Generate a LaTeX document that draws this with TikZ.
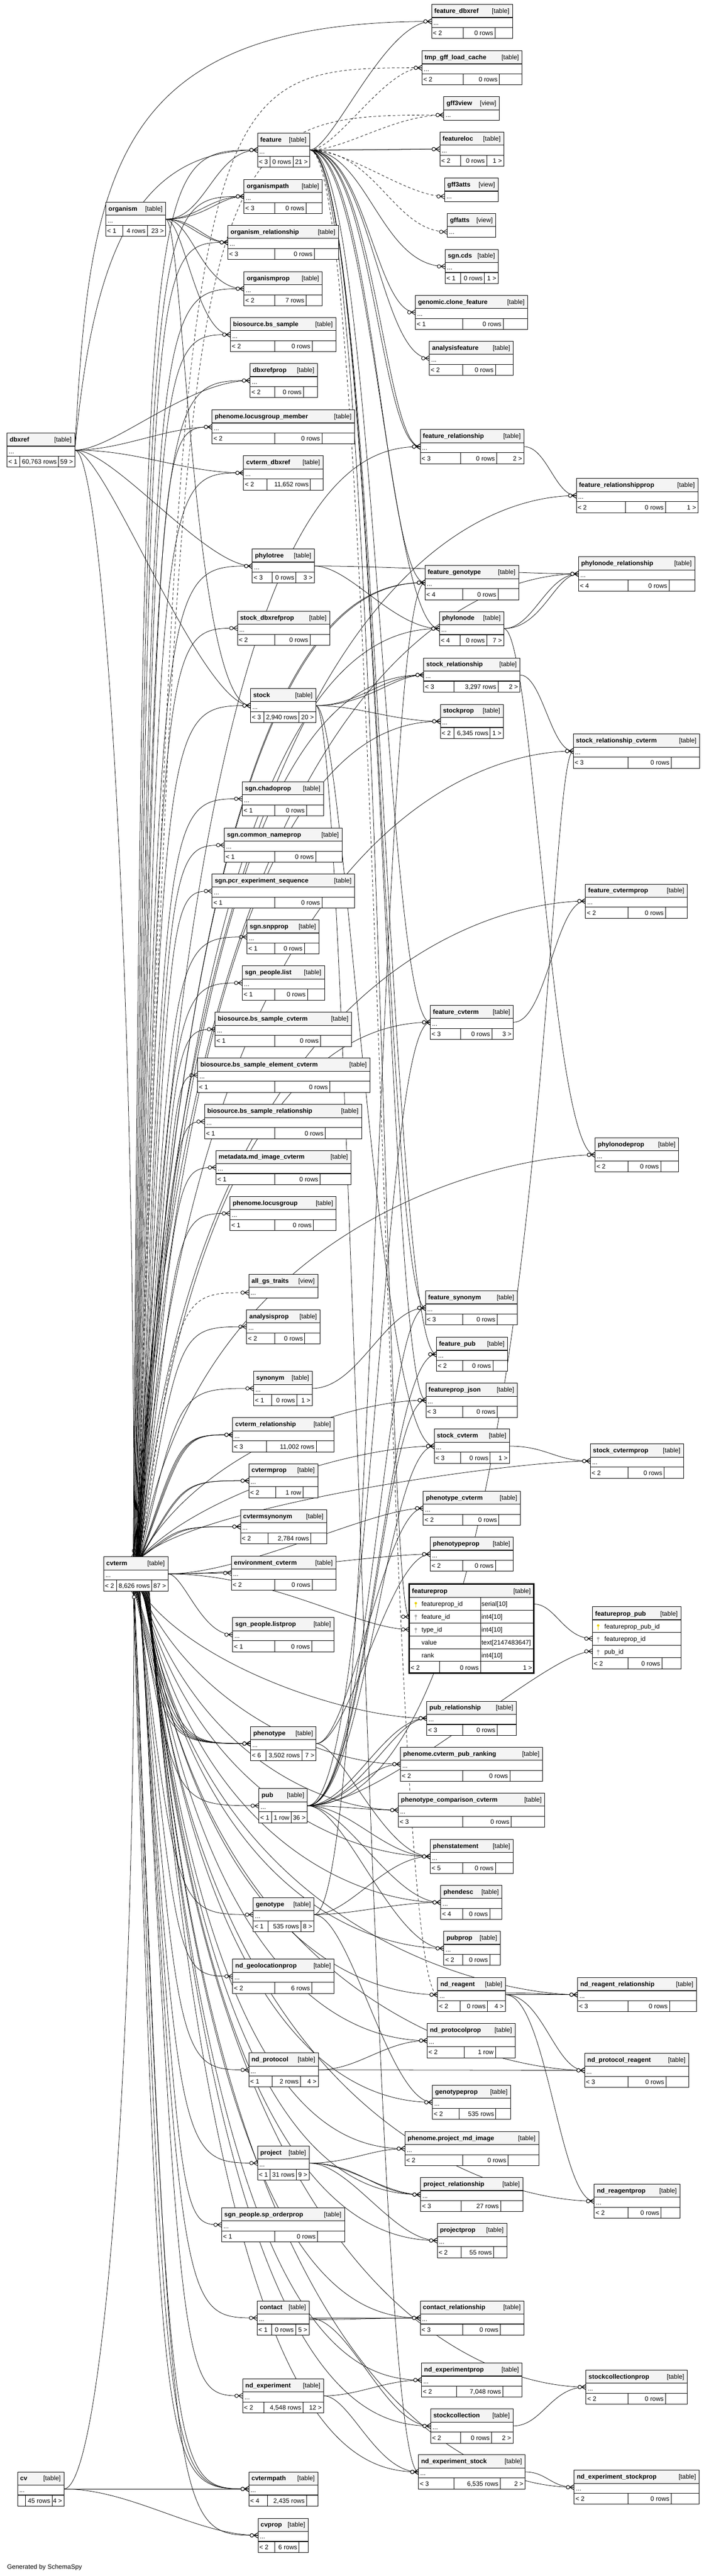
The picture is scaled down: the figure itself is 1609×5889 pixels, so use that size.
\documentclass[tikz,border=0pt]{standalone}
\usepackage{fontspec}
\setmainfont{Liberation Sans}
\usetikzlibrary{calc}
\definecolor{hdrgray}{RGB}{244,244,244}
\definecolor{pkgold}{RGB}{232,208,0}
\definecolor{fkgray}{RGB}{170,170,170}
\pgfdeclarelayer{bg}
\pgfdeclarelayer{edges}
\pgfsetlayers{bg,edges,main}
\def\tsize{\fontsize{14.6pt}{17pt}\selectfont}
\tikzset{
  tblbox/.style={rectangle,fill=white,inner sep=0pt,outer sep=0pt},
  hdrfill/.style={fill=hdrgray},
  tblrule/.style={line width=1.3pt},
  tblcell/.style={line width=0.8pt},
  tblframe/.style={line width=1pt},
  ttl/.style={anchor=base west,inner sep=0pt,font=\tsize\bfseries},
  tag/.style={anchor=base east,inner sep=0pt,font=\tsize},
  cell/.style={anchor=base west,inner sep=0pt,font=\tsize},
  cellr/.style={anchor=base east,inner sep=0pt,font=\tsize},
  fkline/.style={line width=0.9pt},
  implied/.style={dash pattern=on 6pt off 5pt},
  crowline/.style={line width=1.1pt}
}
% table: name, x1, y1, x2, split1, split2, title, footer L/M/R
\def\tblfoot#1/#2/#3\relax{\def\ftL{#1}\def\ftM{#2}\def\ftR{#3}}
\def\tbl#1#2#3#4#5#6#7#8{%
  \tblfoot#8\relax
  \node[tblbox,minimum width={(#4-#2)*1pt},minimum height=78pt] (#1) at ({(#2+#4)/2},{#3+39}) {};
  \fill[hdrfill] (#2,#3) rectangle (#4,#3+30);
  \draw[tblrule] (#2,#3+30) -- (#4,#3+30) (#2,#3+53) -- (#4,#3+53);
  \draw[tblcell] (#5,#3+53) -- (#5,#3+78) (#6,#3+53) -- (#6,#3+78);
  \draw[tblframe] (#2,#3) rectangle (#4,#3+78);
  \node[ttl] (#1-t) at (#2+6,#3+20) {#7};
  \node[tag] (#1-k) at (#4-7,#3+20) {[table]};
  \node[cell] (#1-d) at (#2+4,#3+47) {...};
  \node[cell] (#1-l) at (#2+3,#3+71) {\ftL};
  \node[cellr] (#1-m) at (#6-4,#3+71) {\ftM};
  \node[cellr] (#1-r) at (#4-4,#3+71) {\ftR};
}
% view: name, x1, y1, x2, title
\def\vw#1#2#3#4#5{%
  \node[tblbox,minimum width={(#4-#2)*1pt},minimum height=54pt] (#1) at ({(#2+#4)/2},{#3+27}) {};
  \fill[hdrfill] (#2,#3) rectangle (#4,#3+30);
  \draw[tblrule] (#2,#3+30) -- (#4,#3+30);
  \draw[tblframe] (#2,#3) rectangle (#4,#3+54);
  \node[ttl] (#1-t) at (#2+6,#3+20) {#5};
  \node[tag] (#1-k) at (#4-7,#3+20) {[view]};
  \node[cell] (#1-d) at (#2+4,#3+47) {...};
}
\def\tkey#1#2#3{\fill[#3] (#1,#2-7) circle[radius=2.8pt]; \draw[#3,line width=1.6pt] (#1,#2-7) -- (#1,#2+3);}
% many-end marker: point, angle
\newcommand\crow[2]{\begin{scope}[shift={(#1)},rotate=#2]
  \draw[crowline] (0,-6) -- (-10,0) -- (0,6) (-10,0) -- (0,0);
  \draw[crowline,fill=white] (-14,0) circle[radius=4pt];
\end{scope}}
% foreign key: src, dst, lane x at src, lane x at dst
\newcommand\fk[5][]{%
  \draw[fkline,#1] let \p1=(#2), \p2=(#3) in (\p1) .. controls (#4pt,\y1) and (#5pt,\y2) .. (\p2);
  \crow{#3}{0}}
% foreign key leaving vertically: src, dst, lane x
\newcommand\fkv[4][]{%
  \draw[fkline,#1] let \p1=(#2), \p2=(#3) in (\p1) .. controls (#4pt,\y2) .. (\p2);
  \crow{#3}{0}}
% foreign key leaving vertically, sweeping across: src, dst, lane x, rise
\newcommand\fkw[5][]{%
  \draw[fkline,#1] let \p1=(#2), \p2=(#3) in (\p1) .. controls (#4pt,{\y2+(#5pt)}) and ({\x2-180pt},\y2) .. (\p2);
  \crow{#3}{0}}

\begin{document}
\begin{tikzpicture}[x=1pt,y=-1pt]
%%%%% START %%%%%
\begin{pgfonlayer}{bg}\fill[white] (0,0) rectangle (1609,5889);\end{pgfonlayer}
\useasboundingbox (0,0) rectangle (1609,5889);

\tbl{feature-dbxref}{987}{10}{1172}{1059}{1132}{feature\_dbxref}{< 2/0 rows/}
\tbl{tmp-gff}{965}{116}{1194}{1059}{1142}{tmp\_gff\_load\_cache}{< 2/0 rows/}
\vw{gff3view}{1015}{221}{1142}{gff3view}
\tbl{featureloc}{1006}{302}{1152}{1053}{1113}{featureloc}{< 2/0 rows/1 >}
\tbl{feature}{589}{304}{708}{618}{670}{feature}{< 3/0 rows/21 >}
\tbl{organismpath}{558}{410}{737}{628}{700}{organismpath}{< 3/0 rows/}
\vw{gff3atts}{1017}{407}{1139}{gff3atts}
\vw{gffatts}{1023}{488}{1134}{gffatts}
\tbl{organism}{242}{462}{379}{281}{337}{organism}{< 1/4 rows/23 >}
\tbl{organism-rel}{521}{515}{774}{628}{719}{organism\_relationship}{< 3/0 rows/}
\tbl{organismprop}{558}{621}{737}{628}{700}{organismprop}{< 2/7 rows/}
\tbl{bs-sample}{527}{726}{768}{628}{714}{biosource.bs\_sample}{< 2/0 rows/}
\tbl{dbxrefprop}{572}{831}{726}{628}{694}{dbxrefprop}{< 2/0 rows/}
\tbl{lg-member}{485}{937}{811}{628}{736}{phenome.locusgroup\_member}{< 2/0 rows/}
\tbl{sgn-cds}{1018}{570}{1139}{1053}{1108}{sgn.cds}{< 1/0 rows/1 >}
\tbl{clone-feature}{950}{675}{1207}{1058}{1151}{genomic.clone\_feature}{< 1/0 rows/}
\tbl{analysisfeature}{982}{780}{1174}{1058}{1133}{analysisfeature}{< 2/0 rows/}
\tbl{feature-rel}{961}{982}{1198}{1053}{1136}{feature\_relationship}{< 3/0 rows/2 >}
\tbl{dbxref}{16}{990}{171}{45}{134}{dbxref}{< 1/60,763 rows/59 >}
\tbl{cvterm-dbxref}{557}{1042}{739}{610}{710}{cvterm\_dbxref}{< 2/11,652 rows/}
\tbl{feature-relprop}{1318}{1094}{1596}{1430}{1522}{feature\_relationshipprop}{< 2/0 rows/1 >}
\tbl{phylotree}{577}{1255}{719}{622}{677}{phylotree}{< 3/0 rows/3 >}
\tbl{phylonode-rel}{1323}{1273}{1589}{1436}{1530}{phylonode\_relationship}{< 4/0 rows/}
\tbl{feature-genotype}{972}{1293}{1186}{1058}{1139}{feature\_genotype}{< 4/0 rows/}
\tbl{stock-dbxrefprop}{543}{1397}{754}{628}{709}{stock\_dbxrefprop}{< 2/0 rows/}
\tbl{phylonode}{1005}{1398}{1152}{1052}{1113}{phylonode}{< 4/0 rows/7 >}
\tbl{stock-rel}{969}{1504}{1189}{1038}{1139}{stock\_relationship}{< 3/3,297 rows/2 >}
\tbl{stock}{573}{1574}{722}{603}{684}{stock}{< 3/2,940 rows/20 >}
\tbl{stockprop}{1007}{1610}{1151}{1038}{1121}{stockprop}{< 2/6,345 rows/1 >}
\tbl{stock-rel-cvterm}{1311}{1678}{1600}{1436}{1535}{stock\_relationship\_cvterm}{< 3/0 rows/}
\tbl{chadoprop}{554}{1787}{740}{628}{701}{sgn.chadoprop}{< 1/0 rows/}
\tbl{common-nameprop}{513}{1893}{782}{628}{722}{sgn.common\_nameprop}{< 1/0 rows/}
\tbl{pcr-seq}{485}{1998}{811}{628}{736}{sgn.pcr\_experiment\_sequence}{< 1/0 rows/}
\tbl{snpprop}{565}{2103}{730}{628}{696}{sgn.snpprop}{< 1/0 rows/}
\tbl{people-list}{554}{2208}{742}{628}{703}{sgn\_people.list}{< 1/0 rows/}
\tbl{bs-sample-cvterm}{492}{2314}{804}{628}{733}{biosource.bs\_sample\_cvterm}{< 1/0 rows/}
\tbl{bs-element-cvterm}{452}{2419}{846}{628}{754}{biosource.bs\_sample\_element\_cvterm}{< 1/0 rows/}
\tbl{feature-cvtermprop}{1339}{2021}{1572}{1436}{1522}{feature\_cvtermprop}{< 2/0 rows/}
\tbl{feature-cvterm}{984}{2298}{1174}{1053}{1125}{feature\_cvterm}{< 3/0 rows/3 >}
\tbl{bs-sample-rel}{468}{2525}{827}{628}{744}{biosource.bs\_sample\_relationship}{< 1/0 rows/}
\tbl{md-image-cvterm}{494}{2630}{803}{628}{732}{metadata.md\_image\_cvterm}{< 1/0 rows/}
\tbl{locusgroup}{526}{2735}{769}{628}{717}{phenome.locusgroup}{< 1/0 rows/}
\tbl{phylonodeprop}{1361}{2601}{1552}{1436}{1511}{phylonodeprop}{< 2/0 rows/}
\vw{all-gs-traits}{569}{2913}{727}{all\_gs\_traits}
\tbl{analysisprop}{564}{2994}{732}{628}{697}{analysisprop}{< 2/0 rows/}
\tbl{synonym}{580}{3135}{714}{621}{679}{synonym}{< 1/0 rows/1 >}
\tbl{cvterm-rel}{532}{3241}{764}{609}{723}{cvterm\_relationship}{< 3/11,002 rows/}
\tbl{cvtermprop}{569}{3346}{727}{630}{693}{cvtermprop}{< 2/1 row/}
\tbl{feature-synonym}{973}{2951}{1183}{1058}{1137}{feature\_synonym}{< 3/0 rows/}
\tbl{feature-pub}{998}{3057}{1161}{1058}{1127}{feature\_pub}{< 2/0 rows/}
\tbl{featureprop-json}{974}{3162}{1183}{1058}{1137}{featureprop\_json}{< 3/0 rows/}
\tbl{stock-cvterm}{993}{3267}{1165}{1053}{1121}{stock\_cvterm}{< 3/0 rows/1 >}
\tbl{stock-cvtermprop}{1350}{3301}{1563}{1436}{1519}{stock\_cvtermprop}{< 2/0 rows/}
\tbl{phenotype-cvterm}{968}{3409}{1190}{1058}{1141}{phenotype\_cvterm}{< 2/0 rows/}
\tbl{cvtermsynonym}{550}{3451}{747}{613}{711}{cvtermsynonym}{< 2/2,784 rows/}
\tbl{cvterm}{237}{3559}{384}{266}{347}{cvterm}{< 2/8,626 rows/87 >}
\tbl{environment-cvterm}{529}{3557}{768}{628}{714}{environment\_cvterm}{< 2/0 rows/}
\tbl{phenotypeprop}{984}{3514}{1174}{1058}{1133}{phenotypeprop}{< 2/0 rows/}
\tbl{people-listprop}{532}{3698}{764}{628}{713}{sgn\_people.listprop}{< 1/0 rows/}
\tbl{pub-rel}{976}{3889}{1181}{1058}{1137}{pub\_relationship}{< 3/0 rows/}
\tbl{phenotype}{573}{3947}{723}{608}{690}{phenotype}{< 6/3,502 rows/7 >}
\tbl{pub-ranking}{916}{3994}{1241}{1058}{1166}{phenome.cvterm\_pub\_ranking}{< 2/0 rows/}
\tbl{pub}{592}{4089}{703}{621}{666}{pub}{< 1/1 row/36 >}
\tbl{pc-cvterm}{911}{4099}{1246}{1058}{1169}{phenotype\_comparison\_cvterm}{< 3/0 rows/}
\tbl{phenstatement}{984}{4205}{1174}{1058}{1133}{phenstatement}{< 5/0 rows/}
\tbl{phendesc}{1008}{4310}{1148}{1058}{1120}{phendesc}{< 4/0 rows/}
\tbl{genotype}{579}{4338}{718}{613}{688}{genotype}{< 1/535 rows/8 >}
\tbl{pubprop}{1015}{4415}{1144}{1058}{1120}{pubprop}{< 2/0 rows/}
\tbl{geolocationprop}{532}{4479}{764}{628}{713}{nd\_geolocationprop}{< 2/6 rows/}
\tbl{nd-reagent}{1001}{4521}{1156}{1052}{1115}{nd\_reagent}{< 2/0 rows/4 >}
\tbl{nd-reagent-rel}{1321}{4521}{1593}{1436}{1531}{nd\_reagent\_relationship}{< 3/0 rows/}
\tbl{nd-protocolprop}{977}{4626}{1178}{1061}{1133}{nd\_protocolprop}{< 2/1 row/}
\tbl{nd-protocol}{569}{4693}{728}{622}{687}{nd\_protocol}{< 1/2 rows/4 >}
\tbl{nd-protocol-reagent}{1337}{4694}{1575}{1436}{1523}{nd\_protocol\_reagent}{< 3/0 rows/}
\tbl{genotypeprop}{989}{4767}{1168}{1050}{1134}{genotypeprop}{< 2/535 rows/}
\tbl{project-md-image}{926}{4873}{1232}{1058}{1162}{phenome.project\_md\_image}{< 2/0 rows/}
\tbl{project}{589}{4906}{707}{618}{678}{project}{< 1/31 rows/9 >}
\tbl{project-rel}{962}{4978}{1196}{1054}{1145}{project\_relationship}{< 3/27 rows/}
\tbl{nd-reagentprop}{1359}{4993}{1555}{1436}{1512}{nd\_reagentprop}{< 2/0 rows/}
\tbl{sp-orderprop}{507}{5047}{788}{628}{726}{sgn\_people.sp\_orderprop}{< 1/0 rows/}
\tbl{projectprop}{1000}{5083}{1159}{1054}{1129}{projectprop}{< 2/55 rows/}
\tbl{contact}{588}{5260}{707}{621}{676}{contact}{< 1/0 rows/5 >}
\tbl{contact-rel}{961}{5260}{1198}{1058}{1144}{contact\_relationship}{< 3/0 rows/}
\tbl{nd-experimentprop}{964}{5402}{1194}{1044}{1150}{nd\_experimentprop}{< 2/7,048 rows/}
\tbl{stockcollectionprop}{1340}{5418}{1572}{1436}{1522}{stockcollectionprop}{< 2/0 rows/}
\tbl{nd-experiment}{555}{5438}{740}{603}{693}{nd\_experiment}{< 2/4,548 rows/12 >}
\tbl{stockcollection}{985}{5507}{1173}{1053}{1124}{stockcollection}{< 2/0 rows/2 >}
\tbl{nd-experiment-stock}{957}{5612}{1201}{1038}{1144}{nd\_experiment\_stock}{< 3/6,535 rows/2 >}
\tbl{nd-experiment-stockprop}{1313}{5647}{1599}{1436}{1535}{nd\_experiment\_stockprop}{< 2/0 rows/}
\tbl{cv}{40}{5651}{146}{58}{119}{cv}{/45 rows/4 >}
\tbl{cvtermpath}{569}{5651}{727}{612}{701}{cvtermpath}{< 4/2,435 rows/}
\tbl{cvprop}{590}{5757}{705}{628}{684}{cvprop}{< 2/6 rows/}

% featureprop, shown with its columns
\node[tblbox,minimum width=285pt,minimum height=204pt] (featureprop) at (1078.5,3723) {};
\fill[hdrfill] (936,3621) rectangle (1221,3652);
\draw[tblrule] (936,3652) -- (1221,3652) (936,3681) -- (1221,3681) (936,3711) -- (1221,3711)
  (936,3740) -- (1221,3740) (936,3769) -- (1221,3769) (936,3798) -- (1221,3798);
\draw[tblcell] (1099,3652) -- (1099,3798) (1005,3798) -- (1005,3825) (1099,3798) -- (1099,3825);
\draw[line width=3.5pt] (936,3621) rectangle (1221,3825);
\node[ttl] (featureprop-t) at (942,3642) {featureprop};
\node[tag] (featureprop-k) at (1214,3642) {[table]};
\foreach \n/\c/\y [count=\i] in {featureprop\_id/serial[10]/3672, feature\_id/int4[10]/3701,
    type\_id/int4[10]/3731, value/text[2147483647]/3760, rank/int4[10]/3789}
  {\node[cell] (featureprop-n\i) at (964,\y) {\n};
   \node[cell] (featureprop-c\i) at (1101,\y) {\c};}
\tkey{951}{3672}{pkgold}
\tkey{951}{3701}{fkgray}
\tkey{951}{3731}{fkgray}
\node[cell] (featureprop-l) at (939,3818) {< 2};
\node[cellr] (featureprop-m) at (1095,3818) {0 rows};
\node[cellr] (featureprop-r) at (1217,3818) {1 >};
\coordinate (featureprop-id) at (1221,3667);
\coordinate (featureprop-fid) at (936,3696);
\coordinate (featureprop-tid) at (936,3725);

% featureprop_pub, shown with its columns
\node[tblbox,minimum width=202pt,minimum height=142pt] (featureprop-pub) at (1456,3744) {};
\fill[hdrfill] (1355,3673) rectangle (1557,3703);
\draw[tblrule] (1355,3703) -- (1557,3703) (1355,3732) -- (1557,3732) (1355,3761) -- (1557,3761) (1355,3790) -- (1557,3790);
\draw[tblcell] (1436,3790) -- (1436,3815) (1514,3790) -- (1514,3815);
\draw[tblframe] (1355,3673) rectangle (1557,3815);
\node[ttl] (featureprop-pub-t) at (1361,3694) {featureprop\_pub};
\node[tag] (featureprop-pub-k) at (1550,3694) {[table]};
\node[cell] (featureprop-pub-n1) at (1382,3723) {featureprop\_pub\_id};
\node[cell] (featureprop-pub-n2) at (1382,3752) {featureprop\_id};
\node[cell] (featureprop-pub-n3) at (1382,3781) {pub\_id};
\tkey{1368}{3723}{pkgold}
\tkey{1368}{3752}{fkgray}
\tkey{1368}{3781}{fkgray}
\node[cell] (featureprop-pub-l) at (1358,3808) {< 2};
\node[cellr] (featureprop-pub-m) at (1510,3808) {0 rows};
\coordinate (fpp-fpid) at (1355,3746);
\coordinate (fpp-pubid) at (1355,3775);

\node[cell] (credit) at (16,5873) {Generated by SchemaSpy};

\begin{pgfonlayer}{edges}
% feature
\fk{feature.east}{feature-dbxref.west}{760}{880}
\fk[implied]{feature.east}{tmp-gff.west}{770}{880}
\fk[implied]{feature.east}{[yshift=-15pt]gff3view.west}{790}{900}
\fk{feature.east}{featureloc.west}{820}{900}
\fk{feature.east}{featureloc.west}{880}{920}
\fk[implied]{feature.east}{[yshift=-15pt]gff3atts.west}{800}{930}
\fk[implied]{feature.east}{[yshift=-15pt]gffatts.west}{860}{900}
\fk{feature.east}{sgn-cds.west}{840}{870}
\fk{feature.east}{clone-feature.west}{835}{860}
\fk{feature.east}{analysisfeature.west}{845}{870}
\fk{feature.east}{feature-rel.west}{850}{870}
\fk{feature.east}{feature-rel.west}{855}{880}
\fk{feature.east}{feature-genotype.west}{852}{880}
\fk{feature.east}{phylonode.west}{848}{890}
\fk{feature.east}{feature-cvterm.west}{856}{880}
\fk{feature.east}{feature-synonym.west}{858}{880}
\fk{feature.east}{feature-pub.west}{860}{890}
\fk{feature.east}{featureprop-json.west}{862}{885}
\fk{feature.east}{featureprop-fid}{864}{880}
\fk[implied]{feature.east}{nd-reagent.west}{866}{880}
% organism
\fk{organism.east}{feature.west}{470}{490}
\fk{organism.east}{organismpath.west}{450}{480}
\fk{organism.east}{organismpath.west}{470}{500}
\fk{organism.east}{organism-rel.west}{430}{460}
\fk{organism.east}{organism-rel.west}{445}{470}
\fk{organism.east}{organismprop.west}{440}{460}
\fk{organism.east}{bs-sample.west}{420}{450}
\fk{organism.east}{stock.west}{420}{440}
% dbxref
\draw[fkline] (dbxref.east) .. controls (205,400) and (250,49) .. (feature-dbxref.west);
\crow{feature-dbxref.west}{0}
\draw[fkline] (dbxref.east) .. controls (212,600) and (300,343) .. (feature.west);
\crow{feature.west}{0}
\fk{dbxref.east}{dbxrefprop.west}{260}{430}
\fk{dbxref.east}{lg-member.west}{280}{380}
\fk{dbxref.east}{cvterm-dbxref.west}{320}{420}
\fk{dbxref.east}{phylotree.west}{260}{470}
\fk{dbxref.east}{stock.west}{240}{460}
\draw[fkline] (dbxref.east) .. controls +(60,0) and +(0,-1500) .. ([xshift=-4pt]cvterm.north);
\crow{[xshift=-4pt]cvterm.north}{-90}
% cvterm, upwards
\fkv{[xshift=-6pt]cvterm.north}{feature.west}{330}
\fkv{[xshift=-5pt]cvterm.north}{organismpath.west}{336}
\fkv{[xshift=-4pt]cvterm.north}{organism-rel.west}{342}
\fkv{[xshift=-3pt]cvterm.north}{organismprop.west}{348}
\fkv{[xshift=-2pt]cvterm.north}{bs-sample.west}{352}
\fkv{[xshift=-1pt]cvterm.north}{dbxrefprop.west}{356}
\fkv{cvterm.north}{lg-member.west}{360}
\fkv{[xshift=1pt]cvterm.north}{cvterm-dbxref.west}{364}
\fkv[implied]{[xshift=2pt]cvterm.north}{tmp-gff.west}{420}
\fkv[implied]{[xshift=3pt]cvterm.north}{[yshift=-15pt]gff3view.west}{426}
\fkv{[xshift=2pt]cvterm.north}{phylotree.west}{368}
\fkv{[xshift=3pt]cvterm.north}{stock-dbxrefprop.west}{372}
\fkv{[xshift=4pt]cvterm.north}{stock.west}{376}
\fkv{[xshift=5pt]cvterm.north}{chadoprop.west}{380}
\fkv{[xshift=5pt]cvterm.north}{common-nameprop.west}{384}
\fkv{[xshift=6pt]cvterm.north}{pcr-seq.west}{388}
\fkv{[xshift=6pt]cvterm.north}{snpprop.west}{392}
\fkv{[xshift=7pt]cvterm.north}{people-list.west}{396}
\fkv{[xshift=7pt]cvterm.north}{bs-sample-cvterm.west}{398}
\fkv{[xshift=8pt]cvterm.north}{bs-element-cvterm.west}{400}
\fkv{[xshift=8pt]cvterm.north}{bs-sample-rel.west}{402}
\fkv{[xshift=9pt]cvterm.north}{md-image-cvterm.west}{404}
\fkv{[xshift=9pt]cvterm.north}{locusgroup.west}{406}
\fkv[implied]{[xshift=10pt]cvterm.north}{[yshift=-15pt]all-gs-traits.west}{408}
\fkv{[xshift=10pt]cvterm.north}{analysisprop.west}{410}
\fkv{[xshift=11pt]cvterm.north}{synonym.west}{412}
\fkv{[xshift=11pt]cvterm.north}{cvterm-rel.west}{414}
\fkv{[xshift=12pt]cvterm.north}{cvterm-rel.west}{418}
\fkv{[xshift=13pt]cvterm.north}{cvterm-rel.west}{422}
\fkv{[xshift=12pt]cvterm.north}{cvtermprop.west}{420}
\fkv{[xshift=13pt]cvterm.north}{cvtermprop.west}{424}
\fkv{[xshift=12pt]cvterm.north}{cvtermsynonym.west}{410}
\fkv{[xshift=14pt]cvterm.north}{cvtermsynonym.west}{418}
\fkw{cvterm.north}{feature-rel.west}{430}{-130}
\fkw{[xshift=1pt]cvterm.north}{feature-relprop.west}{432}{-130}
\fkw{[xshift=2pt]cvterm.north}{phylonode-rel.west}{434}{-130}
\fkw{[xshift=3pt]cvterm.north}{feature-genotype.west}{436}{-130}
\fkw{[xshift=4pt]cvterm.north}{feature-genotype.west}{438}{-110}
\fkw{[xshift=4pt]cvterm.north}{phylonode.west}{440}{-130}
\fkw{[xshift=5pt]cvterm.north}{stock-rel.west}{442}{-130}
\fkw{[xshift=6pt]cvterm.north}{stockprop.west}{444}{-130}
\fkw{[xshift=7pt]cvterm.north}{stock-rel-cvterm.west}{446}{-130}
\fkw{[xshift=8pt]cvterm.north}{feature-cvtermprop.west}{448}{-130}
\fkw{[xshift=9pt]cvterm.north}{feature-cvterm.west}{450}{-130}
\fkw{[xshift=10pt]cvterm.north}{phylonodeprop.west}{452}{-130}
\fkw{[xshift=11pt]cvterm.north}{featureprop-json.west}{454}{-120}
\fkw{[xshift=12pt]cvterm.north}{stock-cvterm.west}{456}{-110}
\fkw{[xshift=13pt]cvterm.north}{stock-cvtermprop.west}{458}{-100}
% cvterm, sideways
\fk{cvterm.east}{phenotype-cvterm.west}{560}{850}
\fk{cvterm.east}{environment-cvterm.west}{440}{470}
\fk{cvterm.east}{phenotypeprop.west}{600}{860}
\fk{cvterm.east}{featureprop-tid}{620}{820}
\fk{cvterm.east}{people-listprop.west}{420}{460}
% cvterm, downwards
\fkv{[xshift=-6pt]cvterm.south}{cvtermpath.west}{370}
\fkv{[xshift=-5pt]cvterm.south}{cvtermpath.west}{380}
\fkv{[xshift=-4pt]cvterm.south}{cvtermpath.west}{390}
\fkv{[xshift=-3pt]cvterm.south}{cvprop.west}{395}
\fkv{[xshift=-2pt]cvterm.south}{phenotype.west}{380}
\fkv{[xshift=-1pt]cvterm.south}{phenotype.west}{388}
\fkv{cvterm.south}{phenotype.west}{396}
\fkv{[xshift=1pt]cvterm.south}{phenotype.west}{404}
\fkv{[xshift=2pt]cvterm.south}{phenotype.west}{412}
\fkv{[xshift=3pt]cvterm.south}{pub.west}{400}
\fkv{[xshift=4pt]cvterm.south}{genotype.west}{404}
\fkv{[xshift=5pt]cvterm.south}{geolocationprop.west}{406}
\fkv{[xshift=6pt]cvterm.south}{nd-protocol.west}{408}
\fkv{[xshift=7pt]cvterm.south}{project.west}{410}
\fkv{[xshift=8pt]cvterm.south}{sp-orderprop.west}{412}
\fkv{[xshift=9pt]cvterm.south}{contact.west}{414}
\fkv{[xshift=10pt]cvterm.south}{nd-experiment.west}{416}
\fkw{[xshift=11pt]cvterm.south}{pub-rel.west}{440}{120}
\fkw{[xshift=12pt]cvterm.south}{pub-ranking.west}{444}{130}
\fkw{[xshift=13pt]cvterm.south}{pc-cvterm.west}{448}{130}
\fkw{[xshift=14pt]cvterm.south}{phenstatement.west}{452}{130}
\fkw{[xshift=15pt]cvterm.south}{phendesc.west}{456}{130}
\fkw{[xshift=16pt]cvterm.south}{pubprop.west}{458}{130}
\fkw{[xshift=17pt]cvterm.south}{nd-reagent.west}{460}{130}
\fkw{[xshift=18pt]cvterm.south}{nd-reagent-rel.west}{462}{130}
\fkw{[xshift=19pt]cvterm.south}{nd-protocolprop.west}{464}{130}
\fkw{[xshift=20pt]cvterm.south}{nd-protocol-reagent.west}{466}{130}
\fkw{[xshift=21pt]cvterm.south}{genotypeprop.west}{468}{130}
\fkw{[xshift=22pt]cvterm.south}{project-md-image.west}{470}{130}
\fkw{[xshift=23pt]cvterm.south}{project-rel.west}{472}{130}
\fkw{[xshift=24pt]cvterm.south}{nd-reagentprop.west}{474}{130}
\fkw{[xshift=25pt]cvterm.south}{projectprop.west}{476}{130}
\fkw{[xshift=26pt]cvterm.south}{contact-rel.west}{478}{130}
\fkw{[xshift=27pt]cvterm.south}{nd-experimentprop.west}{480}{130}
\fkw{[xshift=28pt]cvterm.south}{stockcollectionprop.west}{482}{130}
\fkw{[xshift=29pt]cvterm.south}{stockcollection.west}{484}{130}
\fkw{[xshift=30pt]cvterm.south}{nd-experiment-stock.west}{486}{130}
\fkw{[xshift=31pt]cvterm.south}{nd-experiment-stockprop.west}{488}{130}
% pub
\fk{pub.east}{feature-cvterm.west}{850}{872}
\fk{pub.east}{stock-rel-cvterm.west}{1250}{1245}
\fk{pub.east}{feature-synonym.west}{846}{874}
\fk{pub.east}{feature-pub.west}{842}{880}
\fk{pub.east}{featureprop-json.west}{838}{876}
\fk{pub.east}{stock-cvterm.west}{834}{884}
\fk{pub.east}{fpp-pubid}{880}{1250}
\fk{pub.east}{pub-rel.west}{800}{880}
\fk{pub.east}{pub-rel.west}{820}{900}
\fk{pub.east}{pub-ranking.west}{790}{840}
\fk{pub.east}{pc-cvterm.west}{780}{830}
\fk{pub.east}{phenstatement.west}{800}{880}
\fk{pub.east}{phendesc.west}{790}{900}
\fk{pub.east}{pubprop.west}{790}{900}
% phenotype, genotype
\fk{phenotype.east}{phenotype-cvterm.west}{800}{880}
\fk{phenotype.east}{phenotypeprop.west}{800}{890}
\fk{phenotype.east}{phenstatement.west}{780}{880}
\fk{genotype.east}{feature-genotype.west}{852}{868}
\fk{genotype.east}{phenstatement.west}{800}{880}
\fk{genotype.east}{phendesc.west}{810}{900}
\fk{genotype.east}{genotypeprop.west}{800}{890}
% stock, phylotree, phylonode
\fk{stock.east}{stock-rel.west}{820}{880}
\fk{stock.east}{stock-rel.west}{840}{900}
\fk{stock.east}{stockprop.west}{820}{900}
\fk{stock.east}{stock-cvterm.west}{790}{860}
\fk{stock.east}{nd-experiment-stock.west}{800}{850}
\fk{phylotree.east}{phylonode-rel.west}{900}{1200}
\fk{phylotree.east}{phylonode.west}{800}{900}
\fk{phylonode.east}{phylonode-rel.west}{1220}{1250}
\fk{phylonode.east}{phylonode-rel.west}{1240}{1270}
\fk{phylonode.east}{phylonodeprop.west}{1220}{1260}
% right hand column
\fk{feature-rel.east}{feature-relprop.west}{1250}{1270}
\fk{stock-rel.east}{stock-rel-cvterm.west}{1240}{1260}
\fk{feature-cvterm.east}{feature-cvtermprop.west}{1250}{1270}
\fk{synonym.east}{feature-synonym.west}{820}{880}
\fk{stock-cvterm.east}{stock-cvtermprop.west}{1250}{1270}
\fk{featureprop-id}{fpp-fpid}{1270}{1290}
\fk{nd-reagent.east}{nd-reagent-rel.west}{1230}{1260}
\fk{[yshift=4pt]nd-reagent.east}{nd-reagent-rel.west}{1250}{1240}
\fk{nd-reagent.east}{nd-protocol-reagent.west}{1240}{1270}
\fk{nd-reagent.east}{nd-reagentprop.west}{1250}{1280}
\fk{nd-protocol.east}{nd-protocolprop.west}{820}{880}
\fk{nd-protocol.east}{nd-protocol-reagent.west}{1000}{1200}
\fk{project.east}{project-md-image.west}{800}{850}
\fk{project.east}{project-rel.west}{800}{880}
\fk{project.east}{project-rel.west}{820}{860}
\fk{project.east}{projectprop.west}{800}{900}
\fk{contact.east}{contact-rel.west}{800}{880}
\fk{[yshift=-4pt]contact.east}{contact-rel.west}{820}{860}
\fk{contact.east}{stockcollection.west}{800}{880}
\fk{nd-experiment.east}{nd-experimentprop.west}{820}{880}
\fk{nd-experiment.east}{nd-experiment-stock.west}{800}{860}
\fk{stockcollection.east}{stockcollectionprop.west}{1240}{1260}
\fk{nd-experiment-stock.east}{nd-experiment-stockprop.west}{1250}{1260}
% cv
\fk{cv.east}{cvtermpath.west}{300}{450}
\fk{cv.east}{cvprop.west}{300}{450}
\draw[fkline] (cv.east) .. controls +(80,0) and +(0,1200) .. ([xshift=-4pt]cvterm.south);
\crow{[xshift=-4pt]cvterm.south}{90}
\end{pgfonlayer}
%%%%% END %%%%%
\end{tikzpicture}
\end{document}
